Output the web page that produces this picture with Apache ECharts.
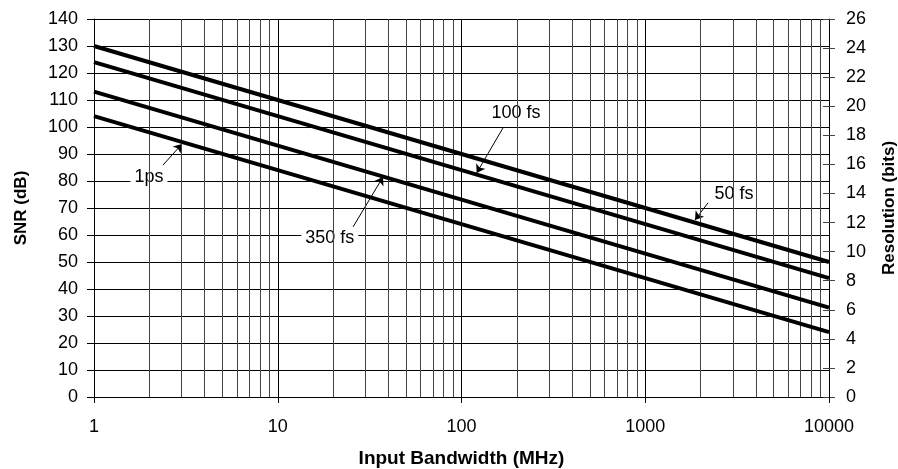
<!DOCTYPE html>
<html>
<head>
<meta charset="utf-8">
<script src="https://cdn.jsdelivr.net/npm/echarts@6/dist/echarts.min.js"></script>
<style>
  html, body { margin: 0; padding: 0; background: #fff; }
  #chart { width: 898px; height: 469px; }
</style>
</head>
<body>
<div id="chart"></div>
<script>
// input bandwidth (MHz) and jitter-limited SNR (dB) per clock jitter
var bandwidth = [1, 10, 100, 1000, 10000];
var snr50fs  = [130.0, 110.0, 90.0, 70.0, 50.0];
var snr100fs = [124.0, 104.0, 84.0, 64.0, 44.0];
var snr350fs = [113.1, 93.1, 73.1, 53.1, 33.1];
var snr1ps   = [104.0, 84.0, 64.0, 44.0, 24.0];
var jitterNames = ['50 fs', '100 fs', '350 fs', '1ps'];

// minor vertical grid lines of the log axis
var minorGrid = [2, 3, 4, 5, 6, 7, 8, 9,
                 20, 30, 40, 50, 60, 70, 80, 90,
                 200, 300, 400, 500, 600, 700, 800, 900,
                 2000, 3000, 4000, 5000, 6000, 7000, 8000, 9000];

// annotation: label position, arrow start, arrow tip (data coords)
var labelPos  = [[3040, 75.2], [198, 105.2], [19.2, 58.9], [1.99, 81.5]];
var arrowFrom = [[2196, 71.9], [168, 99.6], [25.7, 63.0], [2.375, 85.9]];
var arrowTo   = [[1866, 65.6], [121, 83.0], [37.4, 81.5], [3.01, 93.7]];

var allSnr = [snr50fs, snr100fs, snr350fs, snr1ps];

var chart = echarts.init(document.getElementById('chart'));

var font = 'Liberation Sans, Arial, sans-serif';

var series = allSnr.map(function (vals, i) {
  return {
    name: jitterNames[i],
    type: 'line',
    showSymbol: false,
    symbol: 'none',
    z: 5,
    lineStyle: { color: '#000', width: 4 },
    data: bandwidth.map(function (b, k) { return [b, vals[k]]; }),
    markLine: {
      silent: true,
      symbol: ['none', 'arrow'],
      symbolSize: 8,
      label: { show: false },
      lineStyle: { color: '#000', width: 1, type: 'solid' },
      data: [[{ coord: arrowFrom[i] }, { coord: arrowTo[i] }]]
    }
  };
});

// minor grid lines
series.push({
  type: 'line',
  data: [],
  silent: true,
  z: 1,
  markLine: {
    silent: true,
    symbol: 'none',
    label: { show: false },
    lineStyle: { color: '#444', width: 1, type: 'solid' },
    data: minorGrid.map(function (v) { return { xAxis: v }; })
  }
});

// jitter labels
series.push({
  type: 'scatter',
  symbolSize: 0,
  z: 4,
  silent: true,
  itemStyle: { color: '#000', opacity: 1 },
  data: labelPos.map(function (p, i) { return { name: jitterNames[i], value: p }; }),
  label: {
    show: true,
    position: 'inside',
    formatter: '{b}',
    color: '#000',
    opacity: 1,
    textBorderWidth: 0,
    fontFamily: font,
    fontSize: 18,
    backgroundColor: '#fff',
    padding: [2, 4]
  }
});

chart.setOption({
  animation: false,
  backgroundColor: '#fff',
  grid: { left: 94, right: 69, top: 19, bottom: 72, containLabel: false, outerBoundsMode: 'none' },
  xAxis: {
    type: 'log',
    logBase: 10,
    min: 1,
    max: 10000,
    name: 'Input Bandwidth (MHz)',
    nameLocation: 'middle',
    nameGap: 52,
    nameTextStyle: { fontFamily: font, fontSize: 19, fontWeight: 'bold', color: '#000' },
    axisLine: { lineStyle: { color: '#000', width: 1 } },
    axisTick: { show: true, length: 6, lineStyle: { color: '#000' } },
    axisLabel: {
      color: '#000', fontFamily: font, fontSize: 18, margin: 21,
      formatter: function (v) { return String(v); }
    },
    splitLine: { show: true, lineStyle: { color: '#000', width: 1 } }
  },
  yAxis: [{
    type: 'value',
    min: 0,
    max: 140,
    interval: 10,
    name: 'SNR (dB)',
    nameLocation: 'middle',
    nameRotate: 90,
    nameGap: 64,
    nameTextStyle: { fontFamily: font, fontSize: 17, fontWeight: 'bold', color: '#000' },
    axisLine: { show: true, lineStyle: { color: '#000', width: 1 } },
    axisTick: { show: true, length: 7, lineStyle: { color: '#000' } },
    axisLabel: { color: '#000', fontFamily: font, fontSize: 18, margin: 16 },
    splitLine: { show: true, lineStyle: { color: '#000', width: 1 } }
  }, {
    type: 'value',
    position: 'right',
    min: 0,
    max: 26,
    interval: 2,
    name: 'Resolution (bits)',
    nameLocation: 'middle',
    nameRotate: 90,
    nameGap: 52,
    nameTextStyle: { fontFamily: font, fontSize: 17, fontWeight: 'bold', color: '#000' },
    axisLine: { show: true, lineStyle: { color: '#000', width: 1 } },
    axisTick: { show: true, length: 6, lineStyle: { color: '#444' } },
    axisLabel: { color: '#000', fontFamily: font, fontSize: 18, margin: 17 },
    splitLine: { show: false }
  }, {
    // inner half of the crossing ticks on the right axis
    type: 'value',
    position: 'right',
    min: 0,
    max: 26,
    interval: 2,
    axisLine: { show: false },
    axisTick: { show: true, inside: true, length: 6, lineStyle: { color: '#444' } },
    axisLabel: { show: false },
    splitLine: { show: false }
  }],
  series: series
});
</script>
</body>
</html>
